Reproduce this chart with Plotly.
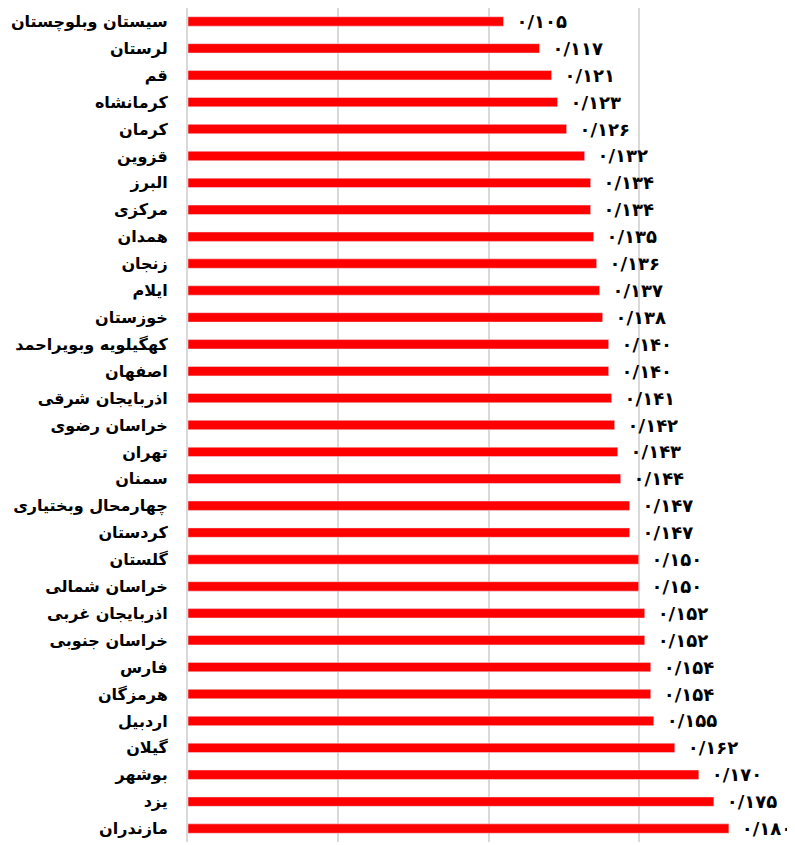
import plotly.graph_objects as go

# === Data ===
provinces = [
    "سیستان وبلوچستان", "لرستان", "قم", "کرمانشاه", "کرمان", "قزوین", "البرز",
    "مرکزی", "همدان", "زنجان", "ایلام", "خوزستان", "کهگیلویه وبویراحمد",
    "اصفهان", "اذربایجان شرقی", "خراسان رضوی", "تهران", "سمنان",
    "چهارمحال وبختیاری", "کردستان", "گلستان", "خراسان شمالی",
    "اذربایجان غربی", "خراسان جنوبی", "فارس", "هرمزگان", "اردبیل",
    "گیلان", "بوشهر", "یزد", "مازندران",
]
values = [
    0.105, 0.117, 0.121, 0.123, 0.126, 0.132, 0.134, 0.134, 0.135, 0.136,
    0.137, 0.138, 0.140, 0.140, 0.141, 0.142, 0.143, 0.144, 0.147, 0.147,
    0.150, 0.150, 0.152, 0.152, 0.154, 0.154, 0.155, 0.162, 0.170, 0.175,
    0.180,
]

# Persian digits with "/" as decimal separator
fa_digits = str.maketrans("0123456789", "۰۱۲۳۴۵۶۷۸۹")
labels = ["\u00a0\u2009" + f"{v:.3f}".replace(".", "/").translate(fa_digits)
          for v in values]

fig = go.Figure(go.Bar(
    x=values,
    y=provinces,
    orientation="h",
    marker_color="#ff0000",
    width=0.35,
    text=labels,
    textposition="outside",
    constraintext="none",
    cliponaxis=False,
    textfont=dict(family="DejaVu Sans", size=18, color="black", weight="bold"),
))

# page body adds an 8px offset, so the figure is a bit smaller than the window
fig.update_layout(
    width=787,
    height=837,
    margin=dict(l=180, r=6, t=0, b=3),
    plot_bgcolor="white",
    paper_bgcolor="white",
    showlegend=False,
    font=dict(family="DejaVu Sans", color="black"),
)
fig.update_xaxes(
    range=[0, 0.2],
    dtick=0.05,
    showticklabels=False,
    showgrid=True,
    gridcolor="#d9d9d9",
    gridwidth=2,
    zeroline=False,
    showline=False,
    automargin=False,
)
fig.update_yaxes(
    autorange="reversed",
    automargin=False,
    showline=True,
    linecolor="#d9d9d9",
    linewidth=2,
    ticks="",
    ticklabelstandoff=15,
    tickfont=dict(family="DejaVu Sans", size=16, color="black", weight="bold"),
)

fig.write_html("out.html")
